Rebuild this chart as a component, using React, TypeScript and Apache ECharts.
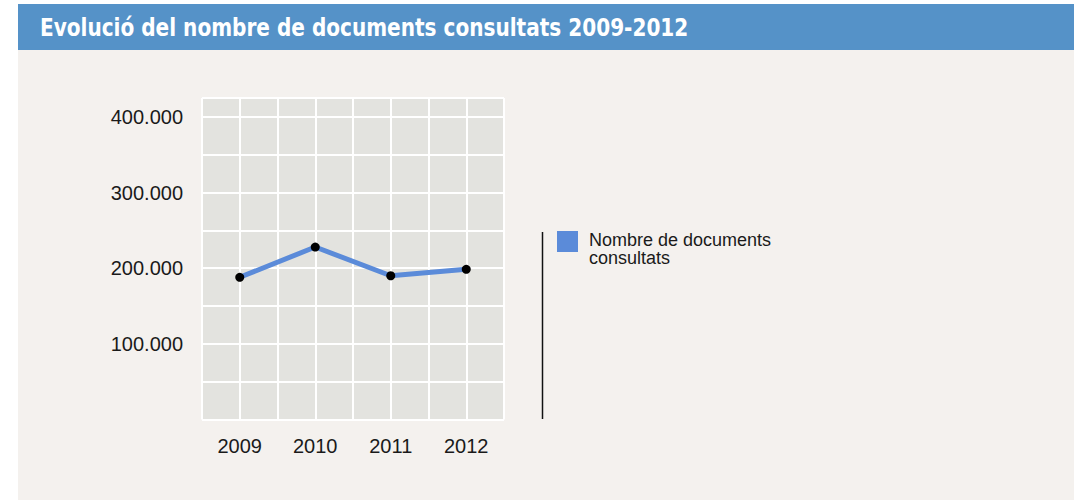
import React, { useEffect, useRef } from "react";
import * as echarts from "echarts";

const years = ["2009", "2010", "2011", "2012"];
const consultats = [188000, 228000, 190000, 198500];
const seriesName = "Nombre de documents consultats";
const legendLines = ["Nombre de documents", "consultats"];
const titleText = "Evolució del nombre de documents consultats 2009-2012";
const lineColor = "#5b8bd9";

export default function App() {
  const ref = useRef<HTMLDivElement>(null);
  useEffect(() => {
    if (!ref.current) return;
    const chart = echarts.init(ref.current, undefined, { renderer: "svg" });
    chart.setOption({
      animation: false,
      backgroundColor: "#ffffff",
      graphic: [
        { type: "rect", z: -10, shape: { x: 18, y: 50, width: 1056, height: 450 }, style: { fill: "#f4f1ee" } },
        { type: "rect", z: -10, shape: { x: 18, y: 4, width: 1056, height: 46 }, style: { fill: "#5592c8" } },
        {
          type: "text", x: 40, y: 15, scaleX: 0.93,
          style: {
            text: titleText, fill: "#ffffff",
            font: "bold 24px 'DejaVu Sans Condensed', 'Liberation Sans', sans-serif",
          },
        },
        { type: "rect", z: -5, shape: { x: 202, y: 98, width: 302, height: 321.5 }, style: { fill: "#e3e3df" } },
        { type: "line", shape: { x1: 542.5, y1: 232, x2: 542.5, y2: 419 }, style: { stroke: "#111", lineWidth: 1.5 } },
        {
          type: "text", x: 589, y: 231,
          style: {
            text: legendLines.join("\n"), fill: "#1a1a1a", lineHeight: 18,
            font: "18px 'Liberation Sans', sans-serif",
          },
        },
      ],
      legend: {
        left: 557, top: 231, orient: "vertical", padding: 0,
        itemWidth: 21, itemHeight: 21, icon: "rect",
        data: [{ name: seriesName, itemStyle: { color: lineColor } }],
        formatter: () => "",
        textStyle: { fontSize: 1 },
      },
      grid: { left: 202, top: 98, width: 302, height: 321.5, show: false },
      xAxis: [
        {
          type: "category", data: years, boundaryGap: true,
          axisLine: { show: false }, axisTick: { show: false },
          splitLine: { show: false },
          axisLabel: { color: "#1a1a1a", fontSize: 20, margin: 16, fontFamily: "'Liberation Sans', sans-serif" },
        },
        {
          type: "value", min: 0, max: 8, interval: 1, position: "bottom",
          axisLine: { show: false }, axisTick: { show: false }, axisLabel: { show: false },
          splitLine: { show: true, lineStyle: { color: "#ffffff", width: 2 } },
        },
      ],
      yAxis: {
        type: "value", min: 0, max: 425000, interval: 50000,
        axisLine: { show: false }, axisTick: { show: false },
        splitLine: { show: true, lineStyle: { color: "#ffffff", width: 2 } },
        axisLabel: {
          color: "#1a1a1a", fontSize: 20, margin: 19, fontFamily: "'Liberation Sans', sans-serif",
          formatter: (v: number) => (v > 0 && v % 100000 === 0 && v <= 400000 ? (v / 1000).toFixed(0) + ".000" : ""),
        },
      },
      series: [
        {
          name: seriesName, type: "line", data: consultats, xAxisIndex: 0,
          color: lineColor,
          lineStyle: { color: lineColor, width: 5 },
          symbol: "circle", symbolSize: 9,
          itemStyle: { color: "#000000", borderWidth: 0 },
        },
      ],
    });
    return () => chart.dispose();
  }, []);
  return <div ref={ref} style={{ position: "fixed", left: 0, top: 0, width: 1074, height: 503 }} />;
}
